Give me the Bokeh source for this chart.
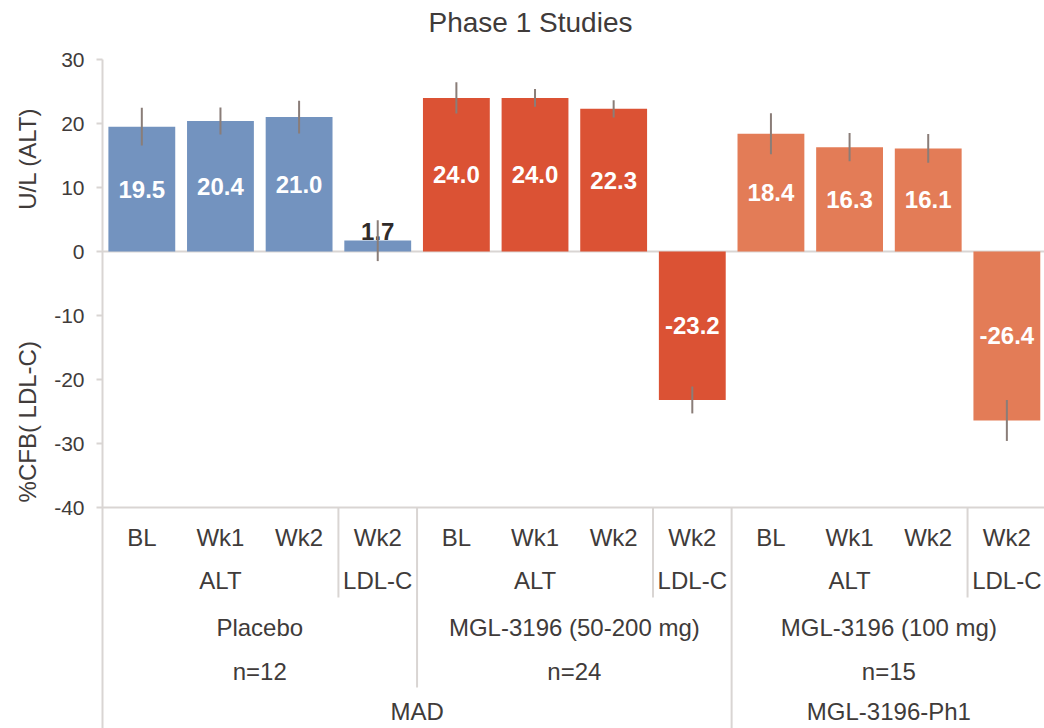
import math
from bokeh.plotting import figure
from bokeh.models import ColumnDataSource, Range1d, FixedTicker
from bokeh.core.properties import value
from bokeh.embed import file_html
from bokeh.resources import INLINE

# ---------------- data ----------------
timepoints = ["BL", "Wk1", "Wk2", "Wk2", "BL", "Wk1", "Wk2", "Wk2", "BL", "Wk1", "Wk2", "Wk2"]
measures = ["ALT", "ALT", "ALT", "LDL-C", "ALT", "ALT", "ALT", "LDL-C", "ALT", "ALT", "ALT", "LDL-C"]
arms = ["Placebo"] * 4 + ["MGL-3196 (50-200 mg)"] * 4 + ["MGL-3196 (100 mg)"] * 4
n_labels = ["n=12"] * 4 + ["n=24"] * 4 + ["n=15"] * 4
studies = ["MAD"] * 8 + ["MGL-3196-Ph1"] * 4
values = [19.5, 20.4, 21.0, 1.7, 24.0, 24.0, 22.3, -23.2, 18.4, 16.3, 16.1, -26.4]
errors = [2.95, 2.1, 2.55, 3.2, 2.45, 1.4, 1.35, 2.1, 3.2, 2.2, 2.25, 3.2]
y_ticks = [-40, -30, -20, -10, 0, 10, 20, 30]
y_axis_min, y_axis_max = -40, 30
title_text = "Phase 1 Studies"
alt_axis_title = "U/L (ALT)"
ldl_axis_title = "%CFB( LDL-C)"

# ---------------- styles / layout ----------------
arm_colors = {"Placebo": "#7393BF", "MGL-3196 (50-200 mg)": "#DB5234", "MGL-3196 (100 mg)": "#E37C57"}
TEXT = "#403B3A"
LINE = "#D9D5D3"
ERR = "#8A7D78"
FONT = "Liberation Sans"

W, H = 1044, 728
AXIS_X_PX = 102        # where the value axis sits, px from left
AXIS_TOP_PX = 59       # where 30 sits, px from top
PX_PER_UNIT = 6.4
SLOT_PX = 78.64
n = len(values)

x_start = -AXIS_X_PX / SLOT_PX
x_end = (W - AXIS_X_PX) / SLOT_PX
y_top = y_axis_max + AXIS_TOP_PX / PX_PER_UNIT
y_bottom = y_axis_max - (H - AXIS_TOP_PX) / PX_PER_UNIT

def px(d):
    """pixel distance -> data units on the y scale"""
    return d / PX_PER_UNIT

def pxx(d):
    """pixel distance -> data units on the x scale"""
    return d / SLOT_PX

row_offsets = [30, 73, 120, 164, 204]     # px below the -40 line
sep_depth = {"measure": 90, "arm": 180}   # px below the -40 line

p = figure(width=W, height=H, output_backend="svg", toolbar_location=None,
           x_range=Range1d(x_start, x_end), y_range=Range1d(y_bottom, y_top),
           x_axis_location=None, min_border=0, outline_line_color=None,
           background_fill_color="white", border_fill_color="white")
p.title.visible = False
p.xgrid.visible = False
p.ygrid.visible = False

ax = p.yaxis[0]
ax.fixed_location = 0
ax.bounds = (y_bottom, y_axis_max)
ax.ticker = FixedTicker(ticks=y_ticks)
ax.major_label_overrides = {t: str(t) for t in y_ticks}
ax.axis_line_color = LINE
ax.axis_line_width = 2
ax.major_tick_line_color = LINE
ax.major_tick_line_width = 2
ax.major_tick_out = 6
ax.major_tick_in = 0
ax.minor_tick_line_color = None
ax.major_label_standoff = 12
ax.major_label_text_font = FONT
ax.major_label_text_font_size = "21px"
ax.major_label_text_color = TEXT

# title
p.text(x=[pxx(530 - AXIS_X_PX)], y=[y_axis_max + px(AXIS_TOP_PX - 22)], text=[title_text],
       text_align="center", text_baseline="middle", text_font=value(FONT),
       text_font_size="28px", text_color=TEXT)

# horizontal lines at 0 and at the bottom of the value axis
p.segment(x0=[0, 0], x1=[x_end, x_end], y0=[0, y_axis_min], y1=[0, y_axis_min],
          line_color=LINE, line_width=2)

# bars
xs = [i + 0.5 for i in range(n)]
src = ColumnDataSource(dict(x=xs, top=values, color=[arm_colors[a] for a in arms],
                            lo=[v - e for v, e in zip(values, errors)],
                            hi=[v + e for v, e in zip(values, errors)]))
p.vbar(x="x", top="top", bottom=0, width=0.85, fill_color="color", line_color=None, source=src)

# value labels
inside = [i for i in range(n) if abs(values[i]) >= 5]
outside = [i for i in range(n) if abs(values[i]) < 5]
p.text(x=[xs[i] for i in inside], y=[values[i] / 2 for i in inside],
       text=[f"{values[i]:.1f}" for i in inside], text_align="center", text_baseline="middle",
       text_font=value(FONT), text_font_size="24px", text_font_style="bold", text_color="white")
p.text(x=[xs[i] for i in outside], y=[values[i] for i in outside],
       text=[f"{values[i]:.1f}" for i in outside], text_align="center", text_baseline="bottom",
       y_offset=-1, text_font=value(FONT), text_font_size="24px", text_font_style="bold",
       text_color="#302B2A")

# error bars
p.segment(x0="x", x1="x", y0="lo", y1="hi", line_color=ERR, line_width=2, source=src)

# ---------------- multi-level category axis ----------------
def runs(keys, labels):
    out = []
    start = 0
    for i in range(1, n + 1):
        if i == n or keys[i] != keys[start]:
            out.append((start, i, labels[start]))
            start = i
    return out

levels = [
    (list(range(n)), timepoints),
    ([(s, a, m) for s, a, m in zip(studies, arms, measures)], measures),
    ([(s, a) for s, a in zip(studies, arms)], arms),
    ([(s, a, nn) for s, a, nn in zip(studies, arms, n_labels)], n_labels),
    (studies, studies),
]
for (keys, labels), off in zip(levels, row_offsets):
    r = runs(keys, labels)
    p.text(x=[(a + b) / 2 for a, b, _ in r], y=[y_axis_min - px(off)] * len(r),
           text=[t for _, _, t in r], text_align="center", text_baseline="middle",
           text_font=value(FONT), text_font_size="24px", text_color=TEXT)

# separators between groups
sx, sy0, sy1 = [], [], []
for i in range(1, n):
    if studies[i] != studies[i - 1]:
        end = y_bottom
    elif arms[i] != arms[i - 1]:
        end = y_axis_min - px(sep_depth["arm"])
    elif measures[i] != measures[i - 1]:
        end = y_axis_min - px(sep_depth["measure"])
    else:
        continue
    sx.append(i)
    sy0.append(y_axis_min)
    sy1.append(end)
p.segment(x0=sx, x1=sx, y0=sy0, y1=sy1, line_color=LINE, line_width=2)

# axis titles (left of the value axis)
title_x = -pxx(AXIS_X_PX - 27)
p.text(x=[title_x, title_x], y=[14.5, -26.6], text=[alt_axis_title, ldl_axis_title],
       angle=math.pi / 2, text_align="center", text_baseline="middle",
       text_font=value(FONT), text_font_size="24px", text_color=TEXT)

open("out.html", "w").write(file_html(p, INLINE))
